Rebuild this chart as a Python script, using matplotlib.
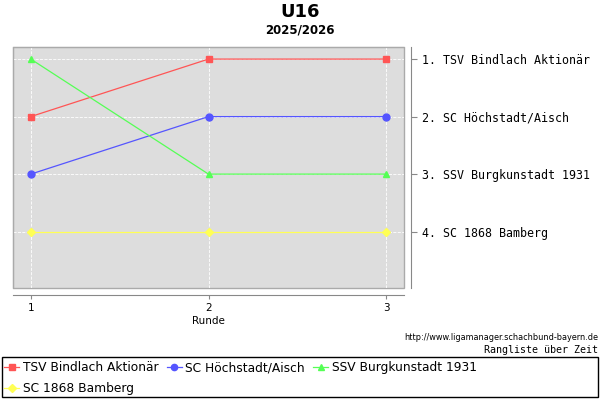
import matplotlib
matplotlib.use("Agg")
import matplotlib.pyplot as plt
from matplotlib.patches import Rectangle

rounds = [1, 2, 3]
teams = ["TSV Bindlach Aktionär", "SC Höchstadt/Aisch", "SSV Burgkunstadt 1931", "SC 1868 Bamberg"]
ranks = [
    [2, 1, 1],
    [3, 2, 2],
    [1, 3, 3],
    [4, 4, 4],
]
final_order = ["TSV Bindlach Aktionär", "SC Höchstadt/Aisch", "SSV Burgkunstadt 1931", "SC 1868 Bamberg"]
colors = ["#ff5555", "#5555ff", "#55ff55", "#ffff55"]
markers = ["s", "o", "^", "D"]

fig = plt.figure(figsize=(6, 4), dpi=100)
ax = fig.add_axes([13 / 600, 1 - 288 / 400, (404 - 13) / 600, (288 - 47) / 400])
ax.set_facecolor("#dddddd")

handles = []
for name, r, c, m in zip(teams, ranks, colors, markers):
    ms = 4 if m == "D" else 5
    h, = ax.plot(rounds, r, color=c, marker=m, markersize=ms, linewidth=0.9, label=name)
    handles.append(h)

ax.set_xlim(0.9, 3.1)
ax.set_ylim(4.98, 0.79)
ax.set_xticks(rounds)
ax.yaxis.tick_right()
ax.set_yticks(range(1, len(final_order) + 1))
ax.set_yticklabels([f"{i}. {n}" for i, n in enumerate(final_order, 1)])
ax.tick_params(axis="x", labelsize=7.5, length=3, color="#888888", pad=3)
ax.tick_params(axis="y", length=4, color="#888888", pad=4, labelsize=8.4,
               labelfontfamily="DejaVu Sans Mono")
ax.grid(True, color="white", linestyle="--", linewidth=0.6)
ax.set_xlabel("Runde", fontsize=7.5, labelpad=2)

for s in ["top", "left"]:
    ax.spines[s].set_color("#aaaaaa")
for s in ["bottom", "right"]:
    ax.spines[s].set_position(("outward", 5))
    ax.spines[s].set_color("#888888")

# plot border
ax.add_patch(Rectangle((0, 0), 1, 1, transform=ax.transAxes, fill=False,
                       edgecolor="#aaaaaa", linewidth=1, clip_on=False))

fig.text(0.5, 1 - 12 / 400, "U16", ha="center", va="center", fontsize=13, fontweight="bold")
fig.text(0.5, 1 - 30 / 400, "2025/2026", ha="center", va="center", fontsize=8.5, fontweight="bold")
fig.text(598 / 600, 1 - 338 / 400, "http://www.ligamanager.schachbund-bayern.de",
         ha="right", va="center", fontsize=5.9)
fig.text(598 / 600, 1 - 350 / 400, "Rangliste über Zeit", ha="right", va="center",
         fontsize=7.2, family="DejaVu Sans Mono")

fig.patches.append(Rectangle((2 / 600, 1 - 397 / 400), 596 / 600, 40 / 400,
                             transform=fig.transFigure, fill=False, edgecolor="black",
                             linewidth=1))
order = [handles[0], handles[3], handles[1], handles[2]]
fig.legend(order, [h.get_label() for h in order], ncol=3, loc="upper left",
           bbox_to_anchor=(2 / 600, 1 - 359 / 400), frameon=False, fontsize=8.8,
           handlelength=1.2, handletextpad=0.3, columnspacing=0.7, borderpad=0.2,
           labelspacing=0.6, borderaxespad=0, markerscale=0.9)

fig.savefig("out.png", dpi=100)
